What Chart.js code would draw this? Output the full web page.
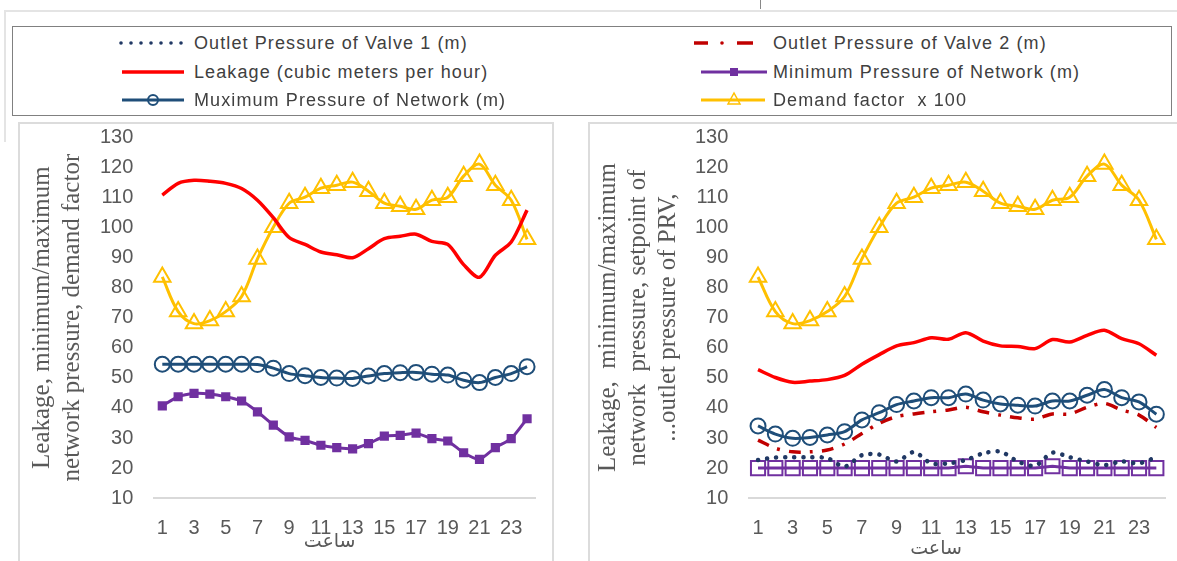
<!DOCTYPE html>
<html>
<head>
<meta charset="utf-8">
<script src="https://cdn.jsdelivr.net/npm/chart.js@4.4.1/dist/chart.umd.min.js"></script>
<style>
  body { margin: 0; width: 1177px; height: 561px; background: #fff; position: relative; overflow: hidden;
         font-family: "Liberation Sans", Arial, sans-serif; }
  .frame { position: absolute; left: 4px; top: 10px; width: 1200px; height: 130px;
           border-left: 2px solid #e4e4e4; border-top: 2px solid #e4e4e4; }
  .cut { position: absolute; left: 760px; top: 0; width: 1px; height: 9px; background: #888; }
  #legendBox { position: absolute; left: 12px; top: 26px; width: 1158px; height: 88px; border: 1.5px solid #808080; }
  #legendSym { position: absolute; left: 0; top: 0; }
  .item { position: absolute; font-size: 18px; line-height: 24px; height: 24px; color: #404040;
          white-space: pre; letter-spacing: 1.1px; }
  .panel { position: absolute; top: 122px; height: 450px; border: 2px solid #dcdcdc; box-sizing: border-box; }
  .plot { position: absolute; top: 104px; height: 457px; }
</style>
</head>
<body>
<div class="frame"></div>
<div class="cut"></div>
<div id="legendBox"></div>
<svg id="legendSym" width="1177" height="120"></svg>
<div class="panel" style="left:18px; width:536px;"></div>
<div class="panel" style="left:588px; width:620px;"></div>
<div class="plot" style="left:19px; width:534px;"><canvas id="chartBefore"></canvas></div>
<div class="plot" style="left:589px; width:588px;"><canvas id="chartAfter"></canvas></div>

<script>
// hours of the day
const hours = ['1', '2', '3', '4', '5', '6', '7', '8', '9', '10', '11', '12',
               '13', '14', '15', '16', '17', '18', '19', '20', '21', '22', '23', '24'];
const yTicks = [10, 20, 30, 40, 50, 60, 70, 80, 90, 100, 110, 120, 130];

// demand factor x 100 (same in both charts)
const demandFactor = [83.5, 72, 68, 69, 72, 77, 89.5, 100, 108, 110, 113, 114,
                      115, 112, 108, 107, 106, 109, 110, 117, 121, 114, 109, 96];

// left chart: without valves
const leakageBefore = [110.7, 114.6, 115.6, 115.3, 114.6, 112.9, 109, 103.2, 96.6, 94.3, 91.8, 90.9,
                       89.9, 92.9, 96.2, 97, 97.7, 95.3, 94.3, 87.6, 83.4, 90.7, 95.1, 105.7];
const maxPressureBefore = [54.5, 54.5, 54.5, 54.5, 54.5, 54.5, 54.4, 53.2, 51.4, 50.7, 50.1, 49.9,
                           49.8, 50.6, 51.4, 51.7, 51.8, 51.2, 50.9, 49.2, 48.4, 50.1, 51.4, 53.7];
const minPressureBefore = [40.7, 43.7, 44.8, 44.6, 43.7, 42.3, 38.7, 34.3, 30.4, 29.2, 27.6, 26.8,
                           26.4, 28.1, 30.6, 30.9, 31.6, 29.8, 29, 25.1, 22.9, 26.8, 29.8, 36.4];

// right chart: with PRVs
const leakageAfter = [52.7, 50.1, 48.5, 48.9, 49.4, 50.8, 54.5, 57.7, 60.6, 61.7, 63.3, 62.8,
                      65, 62.2, 60.6, 60.4, 59.7, 62.7, 61.9, 64.1, 65.8, 63, 61.3, 57.5];
const maxPressureAfter = [34, 31.3, 29.9, 30.2, 31, 32.1, 36, 38.4, 41.1, 42.3, 43.4, 43.4,
                          44.6, 42.6, 41.3, 40.9, 40.6, 42.3, 42.3, 44.2, 46.1, 43.4, 42, 37.9];
const outletValve2 = [29.3, 26.6, 25.4, 25.4, 26, 28, 31.5, 34.9, 37.1, 38, 38.7, 39.3,
                      40.2, 38.7, 37.6, 36.7, 36.3, 38, 38, 40.2, 41.5, 39.3, 37.6, 33.5];
const outletValve1 = [22.7, 23.5, 23.6, 23.6, 23.3, 20.5, 24.3, 24.5, 22.2, 25.3, 21.6, 21.6,
                      22.7, 24.9, 25.5, 22.2, 20.8, 25.1, 23.6, 22.2, 21, 22.2, 21.6, 23.6];
const minPressureAfter = [20, 20, 20, 20, 20, 20, 20, 20, 20, 20, 20, 20,
                          20.6, 20, 20, 20, 20, 20.6, 20, 20, 20, 20, 20, 20];

const legendItems = [
  { text: 'Outlet Pressure of Valve 1 (m)', x: 194, y: 43 },
  { text: 'Outlet Pressure of Valve 2 (m)', x: 773, y: 43 },
  { text: 'Leakage (cubic meters per hour)', x: 194, y: 72 },
  { text: 'Minimum Pressure of Network (m)', x: 773, y: 72 },
  { text: 'Muximum Pressure of Network (m)', x: 194, y: 100 },
  { text: 'Demand factor  x 100', x: 773, y: 100 }
];

const C = { red: '#FF0000', yellow: '#FFC000', navy: '#1F4E79', purple: '#7030A0', darkRed: '#C00000', dots: '#203864' };

// legend: text as html, symbols in svg
legendItems.forEach(it => {
  const d = document.createElement('div');
  d.className = 'item';
  d.style.left = it.x + 'px';
  d.style.top = (it.y - 12) + 'px';
  d.textContent = it.text;
  document.body.appendChild(d);
});
let svg = '';
for (let i = 0; i < 7; i++) svg += `<circle cx="${121 + i * 10}" cy="43" r="1.8" fill="${C.dots}"/>`;
svg += `<line x1="694" y1="43" x2="708" y2="43" stroke="${C.darkRed}" stroke-width="3.5"/>`;
svg += `<circle cx="722" cy="43" r="1.8" fill="${C.darkRed}"/>`;
svg += `<line x1="737" y1="43" x2="753" y2="43" stroke="${C.darkRed}" stroke-width="3.5"/>`;
svg += `<line x1="122" y1="72" x2="184" y2="72" stroke="${C.red}" stroke-width="3.5"/>`;
svg += `<line x1="701" y1="72" x2="767" y2="72" stroke="${C.purple}" stroke-width="3"/>`;
svg += `<rect x="730" y="68" width="8" height="8" fill="${C.purple}"/>`;
svg += `<line x1="122" y1="100" x2="184" y2="100" stroke="${C.navy}" stroke-width="3"/>`;
svg += `<circle cx="153" cy="100" r="5" fill="none" stroke="${C.navy}" stroke-width="2"/>`;
svg += `<line x1="701" y1="100" x2="765" y2="100" stroke="${C.yellow}" stroke-width="3"/>`;
svg += `<polygon points="734,93 728,104 740,104" fill="none" stroke="${C.yellow}" stroke-width="1.5"/>`;
document.getElementById('legendSym').innerHTML = svg;

// chart.js counts tick padding twice in the axis size, the title paddings make up for it
function chartOptions(yTitle, yTitleGap, xTitleTop, xTitleText, padding) {
  const tickFont = { family: 'Liberation Sans', size: 20 };
  return {
    responsive: true,
    maintainAspectRatio: false,
    animation: false,
    layout: { padding },
    plugins: { legend: { display: false }, tooltip: { enabled: false } },
    scales: {
      x: {
        offset: true,
        grid: { display: false, drawTicks: false },
        border: { display: true, color: '#d9d9d9', width: 2 },
        ticks: { autoSkip: false, maxRotation: 0, padding: 18, color: '#595959', font: tickFont,
                 callback: (v, i) => (i % 2 === 0 ? hours[i] : '') },
        title: { display: true, text: xTitleText, color: '#595959',
                 font: { family: 'DejaVu Sans', size: 19, lineHeight: 1.2 },
                 padding: { top: xTitleTop, bottom: 0 } }
      },
      y: {
        min: yTicks[0],
        max: yTicks[yTicks.length - 1],
        grid: { display: false, drawTicks: false },
        border: { display: false },
        afterBuildTicks: axis => { axis.ticks = yTicks.map(v => ({ value: v })); },
        ticks: { padding: 21, color: '#595959', font: tickFont },
        title: { display: true, text: yTitle, color: '#595959',
                 font: { family: 'Liberation Serif', size: 25, lineHeight: 1.2 },
                 padding: { top: 0, bottom: yTitleGap } }
      }
    }
  };
}

const demandSet = () => ({
  data: demandFactor, borderColor: C.yellow, borderWidth: 3, tension: 0.35,
  pointStyle: 'triangle', pointRadius: 9.5, pointBorderWidth: 2,
  pointBorderColor: C.yellow, pointBackgroundColor: 'rgba(0,0,0,0)'
});

new Chart(document.getElementById('chartBefore'), {
  type: 'line',
  data: {
    labels: hours,
    datasets: [
      { data: leakageBefore, borderColor: C.red, borderWidth: 3.5, pointRadius: 0, tension: 0.3 },
      demandSet(),
      { data: maxPressureBefore, borderColor: C.navy, borderWidth: 3, tension: 0.3,
        pointStyle: 'circle', pointRadius: 7.5, pointBorderWidth: 2,
        pointBorderColor: C.navy, pointBackgroundColor: 'rgba(0,0,0,0)' },
      { data: minPressureBefore, borderColor: C.purple, borderWidth: 3, tension: 0.2,
        pointStyle: 'rect', pointRadius: 6.5, pointBorderWidth: 0,
        pointBackgroundColor: C.purple }
    ]
  },
  options: chartOptions(['Leakage, minimum/maximum', 'network pressure, demand factor'],
                        -8, -28, 'ساعت\u00a0\u00a0\u00a0\u00a0\u00a0',
                        { left: 8, right: 18, top: 0, bottom: 8 })
});

new Chart(document.getElementById('chartAfter'), {
  type: 'line',
  data: {
    labels: hours,
    datasets: [
      { data: leakageAfter, borderColor: C.red, borderWidth: 3.5, pointRadius: 0, tension: 0.3 },
      demandSet(),
      { data: maxPressureAfter, borderColor: C.navy, borderWidth: 3, tension: 0.3,
        pointStyle: 'circle', pointRadius: 7.5, pointBorderWidth: 2,
        pointBorderColor: C.navy, pointBackgroundColor: 'rgba(0,0,0,0)' },
      { data: outletValve2, borderColor: C.darkRed, borderWidth: 3.5, pointRadius: 0, tension: 0.3,
        borderDash: [12, 9, 3, 9] },
      { data: outletValve1, borderColor: C.dots, borderWidth: 4.5, pointRadius: 0, tension: 0.3,
        borderDash: [0.1, 9], borderCapStyle: 'round' },
      { data: minPressureAfter, borderColor: C.purple, borderWidth: 3, tension: 0,
        pointStyle: 'rect', pointRadius: 10, pointBorderWidth: 2,
        pointBorderColor: C.purple, pointBackgroundColor: 'rgba(0,0,0,0)' }
    ]
  },
  options: chartOptions(['Leakage,  minimum/maximum', 'network  pressure, setpoint of', '...outlet pressure of PRV,'],
                        -9, -21, 'ساعت\u00a0\u00a0\u00a0\u00a0\u00a0\u00a0\u00a0',
                        { left: 4, right: 12, top: 0, bottom: 1 })
});
</script>
</body>
</html>
